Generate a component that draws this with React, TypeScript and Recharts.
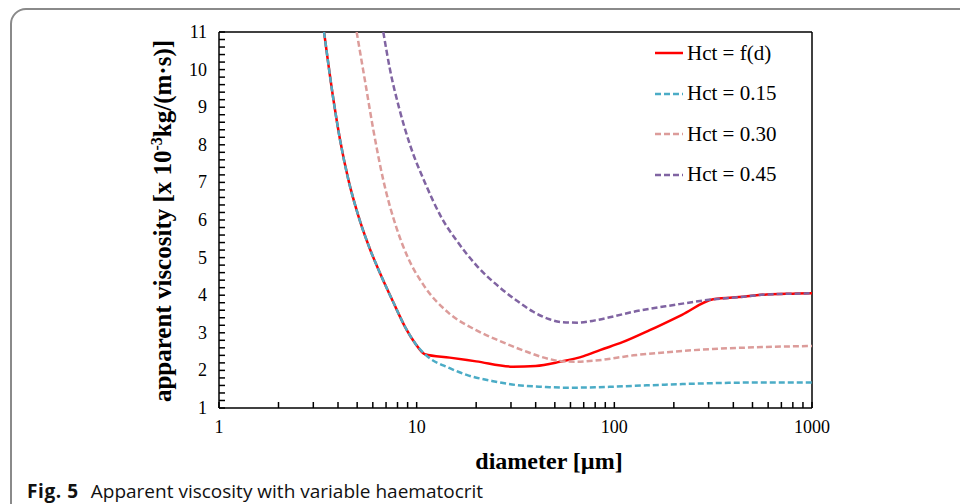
import React from 'react';
import { LineChart, Line, XAxis, YAxis, ReferenceLine, Legend } from 'recharts';

// axis ticks
const xDecades = [1, 10, 100, 1000];
const xSubSteps = [1, 2, 3, 4, 5, 6, 7, 8, 9];
const yMajor = [1, 2, 3, 4, 5, 6, 7, 8, 9, 10, 11];
const ySubSteps = [0, 0.2, 0.4, 0.6, 0.8];

// Hct = f(d)
const fdDiam = [3.4, 3.79, 4.1, 4.51, 5.07, 5.8, 6.52, 7.62, 8.73, 9.8, 11.0, 14.7, 20, 30.8, 40, 53, 70, 84.6, 110, 151, 220, 316, 450, 588, 800, 1000];
const fdVisc = [11, 9.21, 8.12, 7.08, 6.11, 5.23, 4.59, 3.81, 3.16, 2.73, 2.43, 2.34, 2.24, 2.1, 2.12, 2.23, 2.38, 2.54, 2.75, 3.07, 3.48, 3.89, 3.96, 4.02, 4.04, 4.05];

// Hct = 0.15
const h15Diam = [3.4, 3.79, 4.1, 4.51, 5.07, 5.8, 6.52, 7.62, 8.73, 9.8, 11.0, 14.7, 17.9, 24, 32, 45, 57, 80, 102, 180, 316, 560, 1000];
const h15Visc = [11, 9.21, 8.12, 7.08, 6.11, 5.23, 4.59, 3.81, 3.16, 2.73, 2.43, 2.06, 1.88, 1.72, 1.61, 1.56, 1.54, 1.55, 1.57, 1.62, 1.66, 1.68, 1.68];

// Hct = 0.30
const h30Diam = [4.97, 5.47, 6.04, 6.78, 7.92, 9.07, 10.8, 14.5, 20, 26.4, 35, 47, 55, 65, 80, 125, 200, 316, 560, 1000];
const h30Visc = [11, 9.72, 8.39, 7.06, 5.78, 4.98, 4.28, 3.53, 3.07, 2.78, 2.52, 2.3, 2.24, 2.23, 2.26, 2.4, 2.5, 2.57, 2.62, 2.65];

// Hct = 0.45
const h45Diam = [6.78, 7.33, 8.13, 9.25, 11, 13.4, 16.2, 20, 26.4, 32, 38.9, 47, 55, 65, 80, 100, 125, 200, 316, 450, 588, 800, 1000];
const h45Visc = [11, 10, 9, 8, 7, 6.05, 5.4, 4.8, 4.2, 3.86, 3.56, 3.36, 3.28, 3.27, 3.33, 3.44, 3.56, 3.74, 3.89, 3.96, 4.02, 4.04, 4.05];

const seriesNames = ['Hct = f(d)', 'Hct = 0.15', 'Hct = 0.30', 'Hct = 0.45'];

const toPoints = (d: number[], v: number[]) => d.map((x, i) => ({ d: x, v: v[i] }));

const xTicks = [
  ...xDecades.slice(0, -1).flatMap((dec) => xSubSteps.map((m) => m * dec)),
  xDecades[xDecades.length - 1],
];
const yTicks = [
  ...yMajor.slice(0, -1).flatMap((v) => ySubSteps.map((f) => +(v + f).toFixed(1))),
  yMajor[yMajor.length - 1],
];

const SERIF = "'Liberation Serif', 'Times New Roman', serif";
const TICK_GAP = 12; // distance from axis line to label anchor
const TICK_LEN = 6;

const STYLES = [
  { color: '#ff0000', dash: undefined as string | undefined },
  { color: '#4bacc6', dash: '6 3' },
  { color: '#dc9c9a', dash: '6 3' },
  { color: '#8064a2', dash: '6 3' },
];

const seriesData = [
  toPoints(fdDiam, fdVisc),
  toPoints(h15Diam, h15Visc),
  toPoints(h30Diam, h30Visc),
  toPoints(h45Diam, h45Visc),
];

// ticks point into the plot, labels only on the decades / integers
const XTick = (props: any) => {
  const { x, y, payload } = props;
  const v = payload.value;
  const axisY = y - TICK_GAP;
  return (
    <g>
      <line x1={x} y1={axisY} x2={x} y2={axisY - TICK_LEN} stroke="#000" strokeWidth={1.5} />
      {xDecades.includes(v) && (
        <text x={x} y={y + 13} textAnchor="middle" fontFamily={SERIF} fontSize={18} fill="#000">
          {v}
        </text>
      )}
    </g>
  );
};

const YTick = (props: any) => {
  const { x, y, payload } = props;
  const v = payload.value;
  const axisX = x + TICK_GAP;
  return (
    <g>
      <line x1={axisX} y1={y} x2={axisX + TICK_LEN} y2={y} stroke="#000" strokeWidth={1.5} />
      {Number.isInteger(v) && (
        <text x={x} y={y + 6} textAnchor="end" fontFamily={SERIF} fontSize={18} fill="#000">
          {v}
        </text>
      )}
    </g>
  );
};

function LegendBox() {
  return (
    <div style={{ fontFamily: SERIF, fontSize: 21, color: '#000' }}>
      {seriesNames.map((name, i) => (
        <div key={name} style={{ display: 'flex', alignItems: 'center', height: 40.5 }}>
          <svg width={30} height={6}>
            <line x1={0} y1={3} x2={28} y2={3} stroke={STYLES[i].color} strokeWidth={2.5} strokeDasharray={STYLES[i].dash} />
          </svg>
          <span style={{ marginLeft: 2, whiteSpace: 'nowrap' }}>{name}</span>
        </div>
      ))}
    </div>
  );
}

const YTitle = () => (
  <text
    x={171}
    y={221}
    transform="rotate(-90, 171, 221)"
    textAnchor="middle"
    fontFamily={SERIF}
    fontSize={25}
    fontWeight="bold"
    fill="#000"
  >
    apparent viscosity [x 10
    <tspan dy={-9} fontSize={16}>-3</tspan>
    <tspan dy={9}>kg/(m·s)]</tspan>
  </text>
);

const XTitle = () => (
  <text x={549} y={469} textAnchor="middle" fontFamily={SERIF} fontSize={24} fontWeight="bold" fill="#000">
    diameter [µm]
  </text>
);

export default function App() {
  return (
    <div style={{ position: 'absolute', left: 0, top: 0, width: 960, height: 504, overflow: 'hidden', background: '#fff' }}>
      <div
        style={{
          position: 'absolute',
          left: 10,
          top: 8,
          width: 1100,
          height: 800,
          border: '2px solid #8a8a8a',
          borderTopLeftRadius: 16,
        }}
      />
      <div style={{ position: 'absolute', left: 0, top: 0 }}>
        <LineChart width={960} height={504} margin={{ top: 32, right: 148, bottom: 0, left: 0 }}>
          <XAxis
            dataKey="d"
            type="number"
            scale="log"
            domain={[1, 1000]}
            allowDataOverflow
            ticks={xTicks}
            interval={0}
            height={96}
            tick={<XTick />}
            tickSize={0}
            tickMargin={TICK_GAP}
            tickLine={false}
            axisLine={{ stroke: '#000', strokeWidth: 1.5 }}
            label={<XTitle />}
          />
          <YAxis
            type="number"
            domain={[1, 11]}
            allowDataOverflow
            ticks={yTicks}
            interval={0}
            width={219}
            tick={<YTick />}
            tickSize={0}
            tickMargin={TICK_GAP}
            tickLine={false}
            axisLine={{ stroke: '#000', strokeWidth: 1.5 }}
            label={<YTitle />}
          />
          <ReferenceLine y={11} stroke="#000" strokeWidth={1.5} />
          <ReferenceLine x={1000} stroke="#000" strokeWidth={1.5} />
          {seriesData.map((pts, i) => (
            <Line
              key={seriesNames[i]}
              data={pts}
              dataKey="v"
              name={seriesNames[i]}
              type="monotone"
              stroke={STYLES[i].color}
              strokeWidth={2.5}
              strokeDasharray={STYLES[i].dash}
              dot={false}
              activeDot={false}
              isAnimationActive={false}
            />
          ))}
          <Legend
            layout="vertical"
            align="center"
            verticalAlign="middle"
            content={<LegendBox />}
            wrapperStyle={{ left: 655, top: 33, width: 160 }}
          />
        </LineChart>
      </div>
      <div
        style={{
          position: 'absolute',
          left: 27,
          top: 480,
          fontFamily: "'Open Sans', sans-serif",
          fontSize: 19,
          lineHeight: '22px',
          color: '#111',
          whiteSpace: 'nowrap',
        }}
      >
        <b style={{ letterSpacing: 0.6 }}>Fig. 5</b>
        <span style={{ marginLeft: 12 }}>Apparent viscosity with variable haematocrit</span>
      </div>
    </div>
  );
}
